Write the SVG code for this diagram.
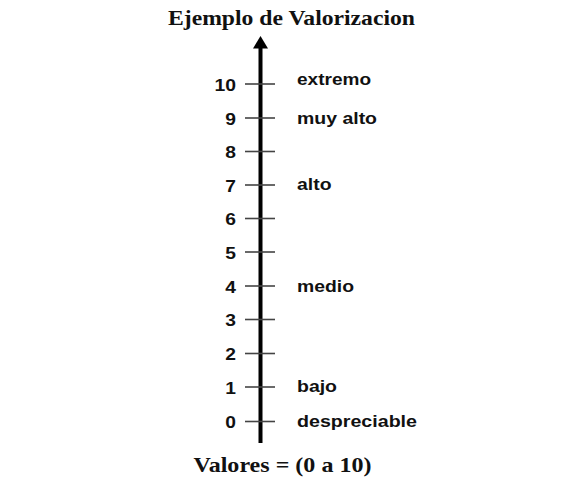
<svg xmlns="http://www.w3.org/2000/svg" width="582" height="496" viewBox="0 0 582 496">
<style>
.t{font-family:"Liberation Serif","Times New Roman",serif;font-weight:bold;font-size:21px;fill:#111}
.n{font-family:"Liberation Sans",Arial,sans-serif;font-weight:bold;font-size:17px;fill:#111;text-anchor:end}
.l{font-family:"Liberation Sans",Arial,sans-serif;font-weight:bold;font-size:17px;fill:#111}
.tick{stroke:#444;stroke-width:1.6}
</style>
<rect width="582" height="496" fill="#fff"/>
<g id="title"><text class="t" x="168" y="25" textLength="247" lengthAdjust="spacingAndGlyphs">Ejemplo de Valorizacion</text></g>
<g id="connectors">
<line x1="260.5" y1="443" x2="260.5" y2="46" stroke="#000" stroke-width="4"/>
<polygon points="260.5,36 253,48.5 268,48.5" fill="#000"/>
</g>
<g id="ticks">
<line class="tick" x1="245" y1="84" x2="275" y2="84"/>
<line class="tick" x1="245" y1="118" x2="275" y2="118"/>
<line class="tick" x1="245" y1="151.5" x2="275" y2="151.5"/>
<line class="tick" x1="245" y1="185" x2="275" y2="185"/>
<line class="tick" x1="245" y1="218.5" x2="275" y2="218.5"/>
<line class="tick" x1="245" y1="252" x2="275" y2="252"/>
<line class="tick" x1="245" y1="286" x2="275" y2="286"/>
<line class="tick" x1="245" y1="319.5" x2="275" y2="319.5"/>
<line class="tick" x1="245" y1="353.5" x2="275" y2="353.5"/>
<line class="tick" x1="245" y1="387" x2="275" y2="387"/>
<line class="tick" x1="245" y1="421.5" x2="275" y2="421.5"/>
</g>
<g id="numbers">
<text class="n" x="236" y="91" textLength="21.5" lengthAdjust="spacingAndGlyphs">10</text>
<text class="n" x="236" y="124.5" textLength="10.7" lengthAdjust="spacingAndGlyphs">9</text>
<text class="n" x="236" y="158" textLength="10.7" lengthAdjust="spacingAndGlyphs">8</text>
<text class="n" x="236" y="191.5" textLength="10.7" lengthAdjust="spacingAndGlyphs">7</text>
<text class="n" x="236" y="225" textLength="10.7" lengthAdjust="spacingAndGlyphs">6</text>
<text class="n" x="236" y="258.5" textLength="10.7" lengthAdjust="spacingAndGlyphs">5</text>
<text class="n" x="236" y="292.5" textLength="10.7" lengthAdjust="spacingAndGlyphs">4</text>
<text class="n" x="236" y="326" textLength="10.7" lengthAdjust="spacingAndGlyphs">3</text>
<text class="n" x="236" y="360" textLength="10.7" lengthAdjust="spacingAndGlyphs">2</text>
<text class="n" x="236" y="393.5" textLength="10.7" lengthAdjust="spacingAndGlyphs">1</text>
<text class="n" x="236" y="428" textLength="10.7" lengthAdjust="spacingAndGlyphs">0</text>
</g>
<g id="labels">
<text class="l" x="297" y="85" textLength="74" lengthAdjust="spacingAndGlyphs">extremo</text>
<text class="l" x="297" y="124" textLength="80" lengthAdjust="spacingAndGlyphs">muy alto</text>
<text class="l" x="297" y="190" textLength="34.5" lengthAdjust="spacingAndGlyphs">alto</text>
<text class="l" x="297" y="291.5" textLength="57" lengthAdjust="spacingAndGlyphs">medio</text>
<text class="l" x="297" y="392" textLength="40" lengthAdjust="spacingAndGlyphs">bajo</text>
<text class="l" x="297" y="427" textLength="120" lengthAdjust="spacingAndGlyphs">despreciable</text>
</g>
<g id="footer"><text class="t" x="193.5" y="471.5" textLength="178" lengthAdjust="spacingAndGlyphs">Valores = (0 a 10)</text></g>
</svg>
